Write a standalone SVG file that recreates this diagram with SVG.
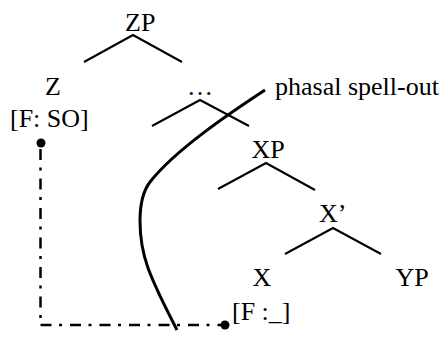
<svg xmlns="http://www.w3.org/2000/svg" width="444" height="338" viewBox="0 0 444 338">
<style>
.br{fill:none;stroke:#000;stroke-width:2}
.dd{fill:none;stroke:#000;stroke-width:2.5;stroke-dasharray:11 7.5 3 8}
.sp{fill:none;stroke:#000;stroke-width:3}
</style>
<rect width="444" height="338" fill="#fff"/>
<g id="connectors">
<polyline class="br" points="84,62 133,35 182,62"/>
<polyline class="br" points="152,126 200,100 249,126"/>
<polyline class="br" points="218,189 266,163 315,190"/>
<polyline class="br" points="285,254 333,228 381,254"/>
<path class="dd" d="M40.5,149 V325"/>
<path class="dd" d="M40.5,325 H221"/>
<circle cx="41" cy="143" r="4.5"/>
<circle cx="225" cy="325" r="4.5"/>
<path class="sp" d="M265,90 C230,113 175,150 150,182 C136,200 138,240 148,268 C157,292 168,312 177,330"/>
</g>
<g font-family="Liberation Serif, Times New Roman, Times, serif" font-size="26" fill="#000">
<g id="ZP"><text x="125" y="30.5">ZP</text></g>
<g id="Z"><text x="45" y="95">Z</text><text x="10" y="127">[F: SO]</text></g>
<g id="dots"><text x="200" y="95" text-anchor="middle">…</text></g>
<g id="spellout"><text x="275" y="95">phasal spell-out</text></g>
<g id="XP"><text x="251.5" y="158">XP</text></g>
<g id="Xbar"><text x="319" y="221.5">X’</text></g>
<g id="X"><text x="252.5" y="286">X</text><text x="232" y="319.5">[F :_]</text></g>
<g id="YP"><text x="395.5" y="286">YP</text></g>
</g>
</svg>
